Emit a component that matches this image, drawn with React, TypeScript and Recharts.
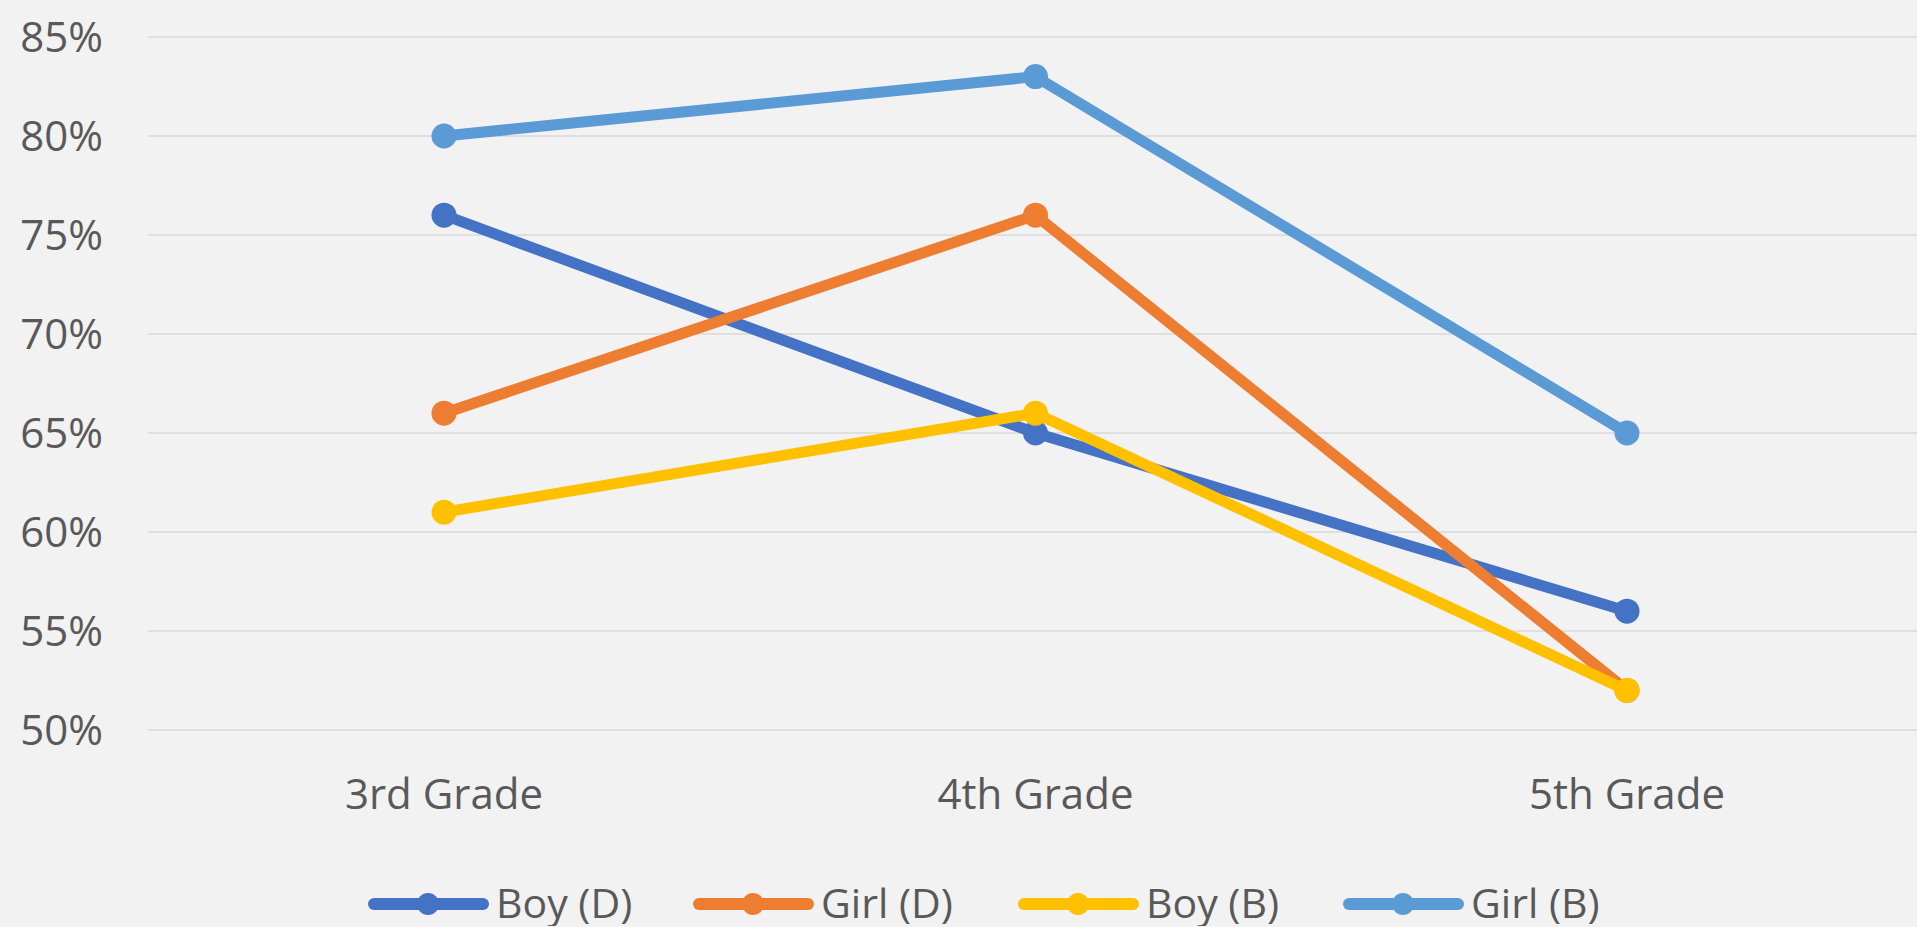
import { LineChart, Line, XAxis, YAxis, CartesianGrid, Legend } from 'recharts'

const grades = ['3rd Grade', '4th Grade', '5th Grade']
const boyD = [76, 65, 56]
const girlD = [66, 76, 52]
const boyB = [61, 66, 52]
const girlB = [80, 83, 65]
const yTicks = [50, 55, 60, 65, 70, 75, 80, 85]

const series = [
  { key: 'boyD', name: 'Boy (D)', color: '#4472C4' },
  { key: 'girlD', name: 'Girl (D)', color: '#ED7D31' },
  { key: 'boyB', name: 'Boy (B)', color: '#FFC000' },
  { key: 'girlB', name: 'Girl (B)', color: '#5B9BD5' },
]

const data = grades.map((grade, i) => ({
  grade,
  boyD: boyD[i],
  girlD: girlD[i],
  boyB: boyB[i],
  girlB: girlB[i],
}))

const FONT = '"Open Sans", sans-serif'
const TEXT = '#595959'

// legend drawn as one svg row: line + dot + label for each series
function LegendBox() {
  return (
    <svg width={1917} height={44} style={{ display: 'block' }}>
      {series.map((s, i) => {
        const x0 = 368 + i * 325
        return (
          <g key={s.key}>
            <line x1={x0 + 6} y1={22} x2={x0 + 115} y2={22} stroke={s.color} strokeWidth={12} strokeLinecap="round" />
            <circle cx={x0 + 60} cy={22} r={11} fill={s.color} />
            <text x={x0 + 128} y={22} dy="0.35em" fontFamily={FONT} fontSize={41} fill={TEXT}>
              {s.name}
            </text>
          </g>
        )
      })}
    </svg>
  )
}

export default function App() {
  return (
    <div style={{ position: 'absolute', left: 0, top: 0, width: 1917, height: 927, overflow: 'hidden', background: '#F2F2F2' }}>
      <LineChart width={1923} height={927} data={data} margin={{ top: 37, right: 0, bottom: 1, left: 0 }}>
        <CartesianGrid vertical={false} stroke="#D9D9D9" strokeWidth={1.5} />
        <XAxis
          dataKey="grade"
          axisLine={false}
          tickLine={false}
          tickSize={0}
          tickMargin={49}
          height={152}
          padding={{ left: 296, right: 296 }}
          tick={{ fill: TEXT, fontSize: 42, fontFamily: FONT }}
        />
        <YAxis
          type="number"
          domain={[50, 85]}
          ticks={yTicks}
          axisLine={false}
          tickLine={false}
          tickSize={0}
          tickMargin={45}
          width={148}
          tickFormatter={(v) => `${v}%`}
          tick={{ fill: TEXT, fontSize: 42, fontFamily: FONT }}
        />
        <Legend verticalAlign="bottom" content={() => <LegendBox />} wrapperStyle={{ left: 0, width: 1917 }} />
        {series.map((s) => (
          <Line
            key={s.key}
            type="linear"
            dataKey={s.key}
            name={s.name}
            stroke={s.color}
            strokeWidth={11}
            strokeLinejoin="round"
            dot={{ r: 12.5, fill: s.color, stroke: 'none' }}
            activeDot={false}
            isAnimationActive={false}
          />
        ))}
      </LineChart>
    </div>
  )
}
